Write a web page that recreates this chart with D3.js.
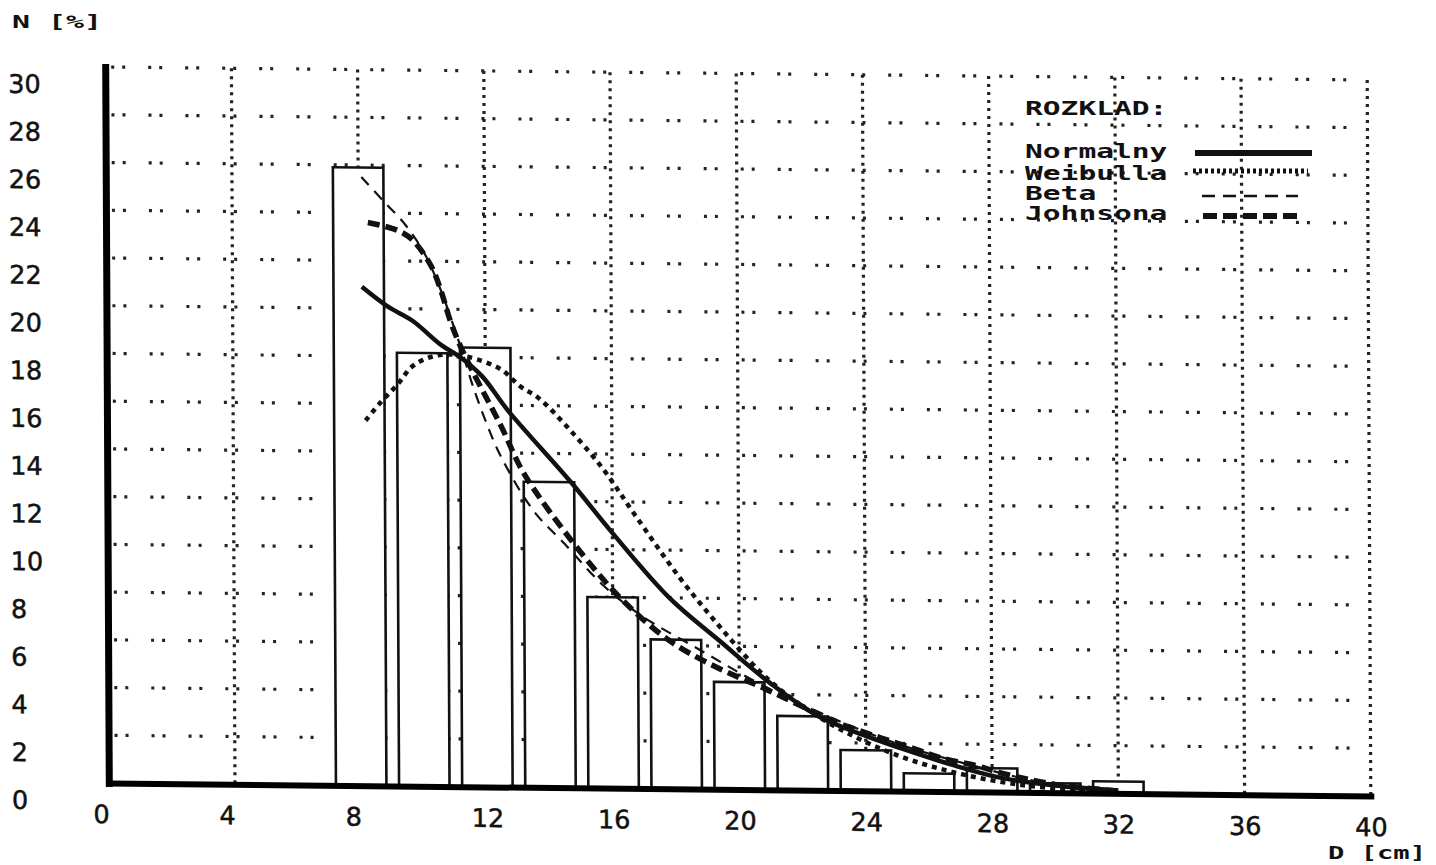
<!DOCTYPE html>
<html><head><meta charset="utf-8">
<script src="https://cdn.jsdelivr.net/npm/d3@7"></script>
<style>body{margin:0;background:#fff} svg{display:block}</style>
</head><body>
<svg id="c" width="1436" height="865"></svg>
<script>
// ---- data ----
const binCenters = [8,10,12,14,16,18,20,22,24,26,28,30,32];
const observed   = [25.9,18.15,18.4,12.8,8.0,6.25,4.5,3.1,1.7,0.75,1.0,0.4,0.5];
const binWidth = 1.6;

const xTicks = [0,4,8,12,16,20,24,28,32,36,40];
const yTicks = [0,2,4,6,8,10,12,14,16,18,20,22,24,26,28,30];

const normalD  = [8.1,8.9,9.7,10.6,11.2,11.9,12.7,14.7,16.0,17.8,19.4,21.0,22.5,24.0,25.1,26.8,28.3,30.0,32.0];
const normalN  = [20.9,20.1,19.5,18.5,18.0,17.2,15.8,12.8,10.7,8.0,6.2,4.45,3.1,2.3,1.8,1.1,0.6,0.3,0.12];

const weibullD = [8.2,8.7,9.2,9.7,10.3,10.9,11.5,12.5,13.1,13.7,14.6,15.7,16.7,18.1,19.4,20.7,21.6,23.0,25.0,27.0,29.0,31.0];
const weibullN = [15.3,16.1,16.8,17.6,18.0,18.1,18.0,17.5,16.8,16.3,15.1,13.4,11.5,8.9,6.8,4.9,3.9,2.7,1.5,0.75,0.3,0.1];

const betaD    = [8.1,8.8,9.5,10.1,10.6,11.0,11.3,11.6,12.1,12.5,13.5,14.5,15.7,16.9,18.8,20.7,23.0,25.2,27.4,29.3,30.9];
const betaN    = [25.5,24.5,23.5,22.3,20.8,19.3,18.1,16.8,15.0,13.8,11.6,10.2,8.5,7.25,5.8,4.4,3.0,1.9,1.1,0.5,0.2];

const johnsonD = [8.3,9.2,9.7,10.3,10.6,10.9,11.2,11.6,12.5,13.1,13.7,15.1,16.3,17.8,19.3,20.7,22.0,23.0,24.3,25.5,26.4,27.5,28.3,30.0,32.0];
const johnsonN = [23.6,23.3,22.9,21.8,20.8,19.5,18.5,17.4,15.1,13.4,12.15,9.7,7.9,6.2,5.1,4.3,3.5,2.9,2.3,1.8,1.4,1.1,0.8,0.35,0.1];

const legendTitle = "ROZKLAD:";
const legendLabels = ["Normalny","Weibulla","Beta","Johnsona"];
const yTitle = "N [%]";
const xTitle = "D [cm]";

// ---- drawing ----
const svg = d3.select("#c");
svg.append("rect").attr("width",1436).attr("height",865).attr("fill","#fff");

const x = d3.scaleLinear().domain([0,40]).range([107,1369]);
const y = d3.scaleLinear().domain([0,30]).range([783,67]);

// slight skew of the scanned original
const ska = 0.005, skb = 0.0103;
const g = svg.append("g")
  .attr("transform",`matrix(1,${skb},${ska},1,${-425*ska},${-107*skb})`);

// grid rows (dot pairs)
g.append("g").selectAll("line").data(yTicks.filter(d=>d>0)).join("line")
  .attr("x1", x(0)+6).attr("x2", x(40))
  .attr("y1", d=>y(d)).attr("y2", d=>y(d))
  .attr("stroke","#222").attr("stroke-width",3.2)
  .attr("stroke-dasharray","3,8,3,23");

// grid columns (dense dots)
g.append("g").selectAll("line").data(xTicks.filter(d=>d>0)).join("line")
  .attr("x1", d=>x(d)).attr("x2", d=>x(d))
  .attr("y1", y(30)).attr("y2", y(0))
  .attr("stroke","#222").attr("stroke-width",3.2)
  .attr("stroke-dasharray","3,5");

// bars
g.append("g").selectAll("rect").data(binCenters).join("rect")
  .attr("x", d=>x(d-binWidth/2))
  .attr("width", d=>x(d+binWidth/2)-x(d-binWidth/2))
  .attr("y", (d,i)=>y(observed[i]))
  .attr("height", (d,i)=>y(0)-y(observed[i]))
  .attr("fill","#fff").attr("stroke","#111").attr("stroke-width",2.6);

// curves
const line = d3.line().x(p=>x(p[0])).y(p=>y(p[1])).curve(d3.curveCatmullRom.alpha(0.5));
const series = [
  {D:betaD, N:betaN, w:2.2, dash:"11,8"},
  {D:johnsonD, N:johnsonN, w:5.5, dash:"12,6"},
  {D:weibullD, N:weibullN, w:4.5, dash:"5,5"},
  {D:normalD, N:normalN, w:4.5, dash:null}
];
series.forEach(s=>{
  g.append("path").datum(s.D.map((d,i)=>[d,s.N[i]]))
   .attr("d", line).attr("fill","none").attr("stroke","#111")
   .attr("stroke-width", s.w).attr("stroke-dasharray", s.dash)
   .attr("stroke-linejoin","round");
});

// axes
const yAxis = g.append("g").attr("transform",`translate(${x(0)},0)`)
  .call(d3.axisLeft(y).tickValues(yTicks).tickSize(0).tickSizeOuter(0));
yAxis.select(".domain").attr("stroke","#000").attr("stroke-width",7).attr("stroke-linecap","square");
yAxis.selectAll("text")
  .attr("text-anchor","start").attr("x", 10-x(0)).attr("y",18)
  .attr("font-family","DejaVu Sans").attr("font-size",25.5).attr("fill","#111")
  .attr("stroke","#111").attr("stroke-width",0.5);

const xAxis = g.append("g").attr("transform",`translate(0,${y(0)})`)
  .call(d3.axisBottom(x).tickValues(xTicks).tickSize(0).tickSizeOuter(0).tickPadding(22));
xAxis.select(".domain").attr("stroke","#000").attr("stroke-width",6).attr("stroke-linecap","square");
xAxis.selectAll("text")
  .attr("dx", d=>String(d).length===1 ? -8 : 0)
  .attr("font-family","DejaVu Sans").attr("font-size",25.5).attr("fill","#111")
  .attr("stroke","#111").attr("stroke-width",0.5);

// titles
const mono = "DejaVu Sans Mono";
svg.append("text").text(yTitle).attr("x",12).attr("y",21.5).attr("dy","0.36em")
  .attr("font-family",mono).attr("font-weight","bold").attr("font-size",18)
  .attr("textLength",90).attr("lengthAdjust","spacingAndGlyphs").attr("fill","#111");
svg.append("text").text(xTitle).attr("x",1328).attr("y",853).attr("dy","0.36em")
  .attr("font-family",mono).attr("font-weight","bold").attr("font-size",17)
  .attr("textLength",98).attr("lengthAdjust","spacingAndGlyphs").attr("fill","#111");

// legend
const lg = svg.append("g");
lg.append("text").text(legendTitle).attr("x",1025).attr("y",108.5).attr("dy","0.36em")
  .attr("font-family",mono).attr("font-weight","bold").attr("font-size",19)
  .attr("textLength",legendTitle.length*17.8).attr("lengthAdjust","spacingAndGlyphs").attr("fill","#111");
const legY = [151,173,193,213];
const legLineY = [153,171,196,216];
const legStyles = [
  {w:6, dash:null, x1:1195, x2:1312},
  {w:5, dash:"3,3", x1:1193, x2:1308},
  {w:2.5, dash:"13,8", x1:1202, x2:1298},
  {w:6, dash:"14,6", x1:1203, x2:1300}
];
legendLabels.forEach((t,i)=>{
  lg.append("text").text(t).attr("x",1025).attr("y",legY[i]).attr("dy","0.36em")
    .attr("font-family",mono).attr("font-weight","bold").attr("font-size",19)
    .attr("textLength",t.length*17.8).attr("lengthAdjust","spacingAndGlyphs").attr("fill","#111");
  lg.append("line").attr("x1",legStyles[i].x1).attr("x2",legStyles[i].x2)
    .attr("y1",legLineY[i]).attr("y2",legLineY[i])
    .attr("stroke","#111").attr("stroke-width",legStyles[i].w)
    .attr("stroke-dasharray",legStyles[i].dash);
});
</script>
</body></html>
